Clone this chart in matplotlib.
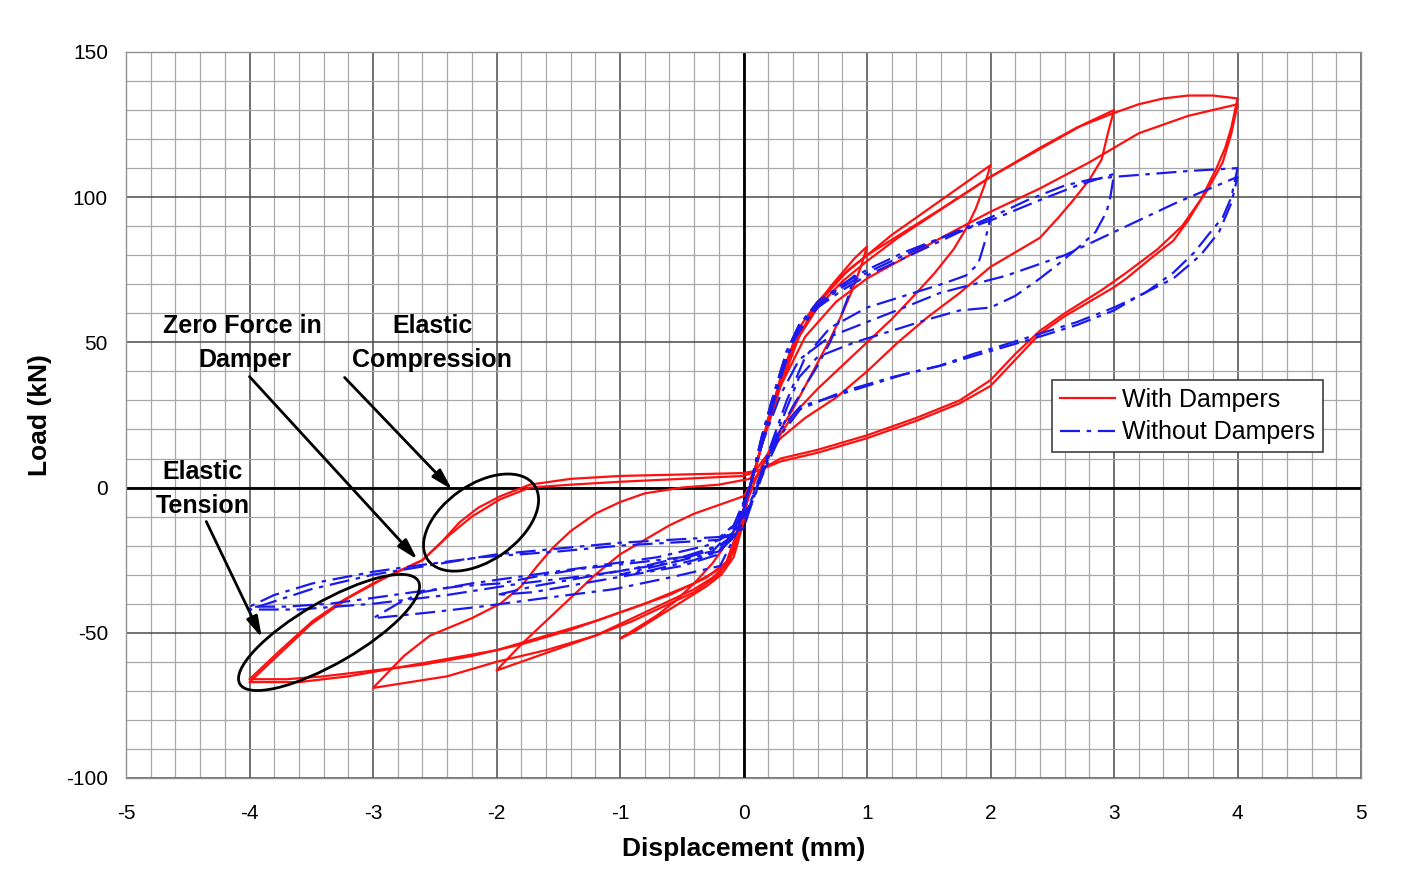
import matplotlib.pyplot as plt
import numpy as np
import matplotlib.transforms as mtransforms
from matplotlib.patches import Ellipse

# ---- data (displacement in mm, load in kN) ----
# with dampers, one list per loop amplitude
wd_1mm_x = [0.05, 0.12, 0.2, 0.3, 0.4, 0.5, 0.6, 0.7, 0.8, 0.9, 1.0,
            0.95, 0.88, 0.8, 0.7, 0.6, 0.5, 0.4, 0.3, 0.2, 0.1, 0.0, -0.1, -0.25, -0.4, -0.55, -0.7, -0.85, -1.0,
            -0.9, -0.75, -0.6, -0.45, -0.3, -0.18, -0.08, 0.0, 0.05]
wd_1mm_y = [0, 10, 24, 36, 48, 56, 63, 69, 74, 79, 83,
            76, 68, 60, 51, 43, 35, 27, 20, 12, 3, -8, -17, -26, -33, -39, -44, -48, -52,
            -50, -46, -42, -38, -34, -30, -24, -12, 0]

wd_2mm_x = [0.05, 0.15, 0.25, 0.4, 0.55, 0.7, 0.85, 1.0, 1.2, 1.4, 1.6, 1.8, 2.0,
            1.95, 1.88, 1.8, 1.7, 1.55, 1.4, 1.2, 1.0, 0.8, 0.6, 0.4, 0.25, 0.12, 0.0,
            -0.2, -0.4, -0.6, -0.8, -1.0, -1.2, -1.4, -1.6, -1.8, -2.0,
            -1.8, -1.6, -1.4, -1.2, -1.0, -0.8, -0.6, -0.4, -0.25, -0.12, -0.03, 0.05]
wd_2mm_y = [0, 15, 30, 48, 60, 68, 75, 80, 87, 93, 99, 105, 111,
            104, 96, 89, 82, 74, 67, 58, 50, 42, 34, 25, 15, 5, -3,
            -6, -9, -13, -18, -23, -30, -38, -46, -54, -63,
            -60, -57, -54, -51, -47, -43, -39, -35, -31, -26, -15, 0]

wd_3mm_x = [0.05, 0.15, 0.3, 0.45, 0.6, 0.8, 1.0, 1.25, 1.5, 1.75, 2.0, 2.25, 2.5, 2.75, 3.0,
            2.95, 2.9, 2.8, 2.67, 2.55, 2.4, 2.2, 2.0, 1.75, 1.5, 1.25, 1.0, 0.75, 0.5, 0.3, 0.15, 0.05,
            -0.2, -0.5, -0.8, -1.0, -1.2, -1.4, -1.55, -1.67, -1.8, -1.97, -2.2, -2.54, -2.75, -3.0,
            -2.7, -2.4, -2.0, -1.6, -1.2, -0.9, -0.6, -0.4, -0.2, -0.08, 0.05]
wd_3mm_y = [0, 15, 35, 52, 62, 71, 78, 86, 93, 100, 107, 113, 119, 125, 130,
            122, 113, 106, 99, 93, 86, 81, 76, 67, 59, 50, 40, 31, 24, 17, 9, 3,
            1, 0, -2, -5, -9, -15, -21, -27, -34, -40, -45, -51, -58, -69,
            -67, -65, -60, -56, -51, -46, -40, -36, -30, -22, 0]

wd_4mm_x = [0.05, 0.15, 0.3, 0.45, 0.6, 0.8, 1.0, 1.3, 1.6, 2.0, 2.4, 2.7, 3.0, 3.2, 3.4, 3.6, 3.8, 4.0,
            3.95, 3.9, 3.83, 3.7, 3.6, 3.48, 3.3, 3.1, 3.0, 2.8, 2.6, 2.4, 2.2, 2.0, 1.75, 1.4, 1.0, 0.6,
            0.3, 0.13, 0.0, -0.5, -1.0, -1.4, -1.73, -1.97, -2.15, -2.3, -2.45, -2.6, -2.8, -3.0, -3.25,
            -3.49, -3.75, -4.0,
            -3.7, -3.4, -3.0, -2.6, -2.2, -1.8, -1.4, -1.0, -0.6, -0.3, -0.12, -0.03, 0.05]
wd_4mm_y = [0, 15, 38, 55, 64, 73, 80, 88, 96, 107, 117, 124, 129, 132, 134, 135, 135, 134,
            124, 117, 110, 99, 92, 85, 79, 72, 69, 64, 59, 53, 44, 35, 29, 23, 17, 12,
            9, 6, 5, 4.5, 4, 3, 1, -3, -7, -12, -19, -25, -29, -33, -39,
            -46, -56, -66,
            -66, -65, -63, -61, -58, -54, -49, -43, -37, -31, -25, -12, 0]

wd_4mm_b_x = [0.05, 0.15, 0.3, 0.5, 0.75, 1.0, 1.3, 1.6, 2.0, 2.4, 2.8, 3.2, 3.6, 4.0,
              3.95, 3.88, 3.75, 3.55, 3.35, 3.1, 2.9, 2.6, 2.4, 2.2, 2.0, 1.75, 1.4, 1.0, 0.6, 0.3, 0.13,
              0.0, -0.5, -1.0, -1.4, -1.73, -1.97, -2.2, -2.4, -2.6, -2.9, -3.2, -3.5, -3.75, -4.0,
              -3.6, -3.2, -2.8, -2.4, -2.0, -1.6, -1.2, -0.8, -0.4, -0.15, -0.05, 0.05]
wd_4mm_b_y = [0, 15, 35, 52, 64, 72, 79, 86, 95, 103, 112, 122, 128, 132,
              122, 112, 102, 90, 82, 74, 68, 60, 54, 46, 37, 30, 24, 18, 13, 10, 6,
              4, 3, 2, 1, 0, -4, -10, -17, -25, -31, -38, -47, -57, -67,
              -67, -65, -62, -59, -56, -51, -46, -40, -33, -27, -15, 0]

# without dampers
wo_1mm_x = [0.05, 0.12, 0.2, 0.3, 0.4, 0.5, 0.6, 0.75, 0.9,
            0.85, 0.78, 0.7, 0.6, 0.5, 0.4, 0.3, 0.2, 0.1, 0.0, -0.1, -0.3, -0.6, -1.0,
            -0.8, -0.6, -0.4, -0.2, -0.1, 0.0, 0.05]
wo_1mm_y = [0, 12, 25, 38, 50, 57, 62, 68, 73,
            66, 58, 50, 42, 35, 28, 20, 10, -2, -12, -18, -22, -26, -30,
            -29, -27, -25, -22, -18, -8, 0]

wo_2mm_x = [0.05, 0.15, 0.25, 0.35, 0.45, 0.6, 0.8, 1.0, 1.3, 1.6, 2.0,
            1.95, 1.9, 1.8, 1.6, 1.3, 1.0, 0.7, 0.5, 0.35, 0.2, 0.08, 0.0,
            -0.2, -0.5, -0.9, -1.3, -1.7, -2.0,
            -1.7, -1.3, -0.9, -0.5, -0.2, -0.08, 0.05]
wo_2mm_y = [0, 15, 30, 45, 55, 62, 68, 73, 79, 85, 93,
            84, 77, 73, 70, 66, 62, 55, 45, 30, 12, -2, -14,
            -20, -24, -28, -31, -34, -37,
            -36, -33, -30, -27, -23, -15, 0]

wo_3mm_x = [0.05, 0.15, 0.25, 0.35, 0.45, 0.6, 0.8, 1.0, 1.3, 1.6, 2.0, 2.4, 2.7, 3.0,
            2.97, 2.94, 2.85, 2.72, 2.55, 2.4, 2.2, 2.0, 1.75, 1.5, 1.2, 0.9, 0.6, 0.45, 0.3, 0.15, 0.0,
            -0.3, -0.7, -1.2, -1.7, -2.2, -2.6, -2.8, -3.0,
            -2.54, -2.13, -1.6, -1.05, -0.6, -0.19, -0.05, 0.05]
wo_3mm_y = [0, 18, 33, 47, 56, 63, 69, 74, 80, 86, 92, 99, 104, 108,
            100, 95, 88, 83, 77, 72, 66, 62, 61, 58, 54, 50, 45, 38, 22, 5, -14,
            -20, -24, -27, -30, -33, -36, -40, -45,
            -43, -41, -38, -35, -31, -27, -15, 0]

wo_4mm_x = [0.05, 0.15, 0.25, 0.35, 0.45, 0.6, 0.8, 1.0, 1.3, 1.6, 2.0, 2.3, 2.6, 2.8, 3.0, 3.3, 3.6, 4.0,
            3.95, 3.88, 3.8, 3.65, 3.48, 3.25, 3.0, 2.7, 2.4, 2.1, 1.86, 1.59, 1.3, 1.0, 0.7, 0.46, 0.3,
            0.15, 0.03, -0.19, -0.6, -1.0, -1.5, -2.13, -2.67, -3.0, -3.49, -3.8, -4.0,
            -3.7, -3.35, -3.0, -2.67, -2.3, -1.97, -1.6, -1.32, -0.9, -0.5, -0.25, -0.1, 0.05]
wo_4mm_y = [0, 18, 33, 47, 56, 64, 70, 75, 81, 86, 93, 99, 104, 106, 107, 108, 109, 110,
            100, 93, 89, 81, 74, 67, 62, 57, 53, 49, 46, 42, 39, 35, 31, 28, 20,
            5, -8, -18, -19, -20, -22, -24, -27, -29, -33, -37, -41,
            -41, -40, -38, -36, -34, -33, -30, -28, -26, -24, -22, -15, 0]

wo_4mm_b_x = [0.05, 0.15, 0.3, 0.45, 0.7, 1.0, 1.3, 1.59, 2.13, 2.6, 3.0, 3.5, 4.0,
              3.95, 3.85, 3.7, 3.48, 3.2, 3.0, 2.7, 2.4, 2.0, 1.6, 1.2, 0.8, 0.46, 0.3, 0.15, 0.0,
              -0.19, -1.0, -2.0, -3.0, -3.5, -4.0,
              -3.6, -3.0, -2.4, -1.8, -1.2, -0.6, -0.2, -0.05, 0.05]
wo_4mm_b_y = [0, 15, 32, 44, 52, 57, 62, 67, 73, 80, 88, 98, 107,
              98, 88, 80, 72, 66, 61, 56, 52, 47, 42, 38, 33, 27, 18, 4, -10,
              -17, -19, -23, -30, -35, -42,
              -42, -40, -37, -33, -30, -26, -22, -12, 0]

with_loops = [(wd_1mm_x, wd_1mm_y), (wd_2mm_x, wd_2mm_y), (wd_3mm_x, wd_3mm_y),
              (wd_4mm_x, wd_4mm_y), (wd_4mm_b_x, wd_4mm_b_y)]
without_loops = [(wo_1mm_x, wo_1mm_y), (wo_2mm_x, wo_2mm_y), (wo_3mm_x, wo_3mm_y),
                 (wo_4mm_x, wo_4mm_y), (wo_4mm_b_x, wo_4mm_b_y)]

plt.rcParams['font.family'] = ['Liberation Sans', 'DejaVu Sans']
plt.rcParams['axes.unicode_minus'] = False

fig = plt.figure(figsize=(14.11, 8.75), dpi=100)
ax = fig.add_axes([0.0893, 0.1109, 0.8753, 0.8297])

red = '#ff1010'
blue = '#1a1aee'
for i, (x, y) in enumerate(with_loops):
    ax.plot(x, y, color=red, lw=1.6, label='With Dampers' if i == 0 else None, zorder=3)
for i, (x, y) in enumerate(without_loops):
    ax.plot(x, y, color=blue, lw=1.6, ls=(0, (9, 3, 2, 3)),
            label='Without Dampers' if i == 0 else None, zorder=3)

ax.set_xlim(-5, 5)
ax.set_ylim(-100, 150)
ax.set_xticks(np.arange(-5, 6, 1))
ax.set_yticks([-100, -50, 0, 50, 100, 150])
ax.set_xticks(np.arange(-5, 5.01, 0.2), minor=True)
ax.set_yticks(np.arange(-100, 151, 10), minor=True)
ax.grid(which='minor', color='#a8a8a8', lw=0.9)
ax.grid(which='major', color='#4a4a4a', lw=1.1)
ax.set_axisbelow(True)
ax.axhline(0, color='black', lw=2, zorder=2)
ax.axvline(0, color='black', lw=2, zorder=2)
for s in ax.spines.values():
    s.set_color('#909090')
    s.set_linewidth(1)
ax.tick_params(which='both', length=0)
ax.tick_params(axis='x', pad=19, labelsize=15)
ax.tick_params(axis='y', pad=13, labelsize=15)

ax.set_xlabel('Displacement (mm)', fontsize=19, fontweight='bold', labelpad=10)
ax.set_ylabel('Load (kN)', fontsize=19, fontweight='bold', labelpad=10)

leg = ax.legend(loc='upper left', bbox_to_anchor=(0.75, 0.548), fontsize=18,
                frameon=True, fancybox=False, edgecolor='#404040', framealpha=1,
                handlelength=2.2, borderpad=0.3, labelspacing=0.35, handletextpad=0.3,
                borderaxespad=0)
leg.get_frame().set_linewidth(1.2)

# annotations
txt = dict(fontsize=18, fontweight='bold', ha='center', va='center', zorder=5)
ax.text(-4.06, 55.8, 'Zero Force in', **txt)
ax.text(-4.04, 44.1, 'Damper', **txt)
ax.text(-2.52, 55.8, 'Elastic', **txt)
ax.text(-2.52, 44.1, 'Compression', **txt)
ax.text(-4.38, 5.5, 'Elastic', **txt)
ax.text(-4.38, -6.2, 'Tension', **txt)

arrow = dict(arrowstyle='-|>,head_width=0.25,head_length=0.9', color='black', lw=2,
             shrinkA=0, shrinkB=0, mutation_scale=14)
ax.annotate('', xy=(-3.90, -51.7), xytext=(-4.35, -11.7), arrowprops=arrow, zorder=5)
ax.annotate('', xy=(-2.64, -24.8), xytext=(-4.0, 38.2), arrowprops=arrow, zorder=5)
ax.annotate('', xy=(-2.36, -0.7), xytext=(-3.23, 37.9), arrowprops=arrow, zorder=5)

for cx, cy, w, h, ang in [(-2.125, -12.05, 1.30, 0.76, 35), (-3.356, -49.9, 2.06, 0.62, 30)]:
    tr = fig.dpi_scale_trans + mtransforms.ScaledTranslation(cx, cy, ax.transData)
    ax.add_patch(Ellipse((0, 0), w, h, angle=ang, transform=tr, fill=False,
                         edgecolor='black', lw=2, zorder=5))

fig.savefig('out.png', dpi=100, facecolor='white')
